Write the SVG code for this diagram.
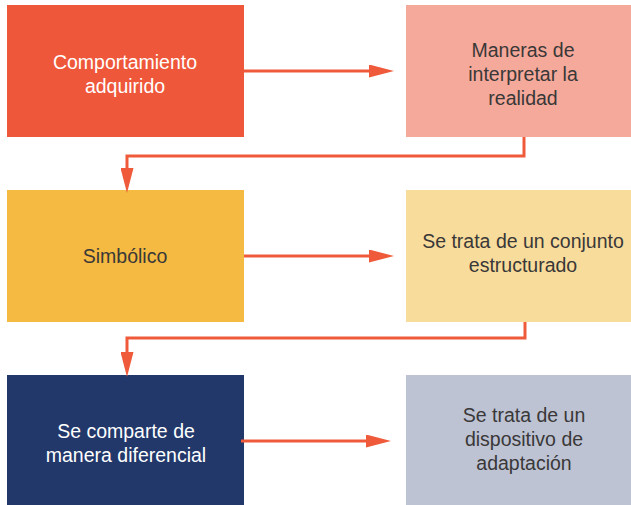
<svg xmlns="http://www.w3.org/2000/svg" width="631" height="505" viewBox="0 0 631 505">
<style>
text{font-family:"Liberation Sans",Arial,sans-serif;font-size:19.5px;text-anchor:middle}
.lt{fill:#ffffff}
.dk{fill:#3a3838}
.conn{fill:none;stroke:#EF5A3A;stroke-width:3;marker-end:url(#ah)}
</style>
<defs>
<marker id="ah" markerUnits="userSpaceOnUse" viewBox="0 0 25 13" refX="0" refY="6.5" markerWidth="25" markerHeight="13" orient="auto">
<path d="M0,0 L25,6.5 L0,13 Z" fill="#EF5A3A"/>
</marker>
</defs>
<g id="n1"><rect x="7" y="5" width="237" height="132" fill="#EF573A"/>
<text class="lt" x="125" y="69">Comportamiento</text><text class="lt" x="125" y="93">adquirido</text></g>
<g id="n2"><rect x="406" y="5" width="225" height="132" fill="#F5A99A"/>
<text class="dk" x="523" y="57">Maneras de</text><text class="dk" x="523" y="81">interpretar la</text><text class="dk" x="523" y="105">realidad</text></g>
<g id="n3"><rect x="7" y="190" width="237" height="132" fill="#F4BA41"/>
<text class="dk" x="125" y="263">Simbólico</text></g>
<g id="n4"><rect x="406" y="190" width="225" height="132" fill="#F8DC9C"/>
<text class="dk" x="523" y="248">Se trata de un conjunto</text><text class="dk" x="523" y="272">estructurado</text></g>
<g id="n5"><rect x="7" y="375" width="237" height="130" fill="#22386A"/>
<text class="lt" x="126" y="438">Se comparte de</text><text class="lt" x="126" y="462">manera diferencial</text></g>
<g id="n6"><rect x="406" y="375" width="225" height="130" fill="#BDC3D3"/>
<text class="dk" x="524" y="422">Se trata de un</text><text class="dk" x="524" y="446">dispositivo de</text><text class="dk" x="524" y="470">adaptación</text></g>
<g id="connectors">
<path class="conn" d="M244,71 H369"/>
<path class="conn" d="M524,137 V156 H127 V168"/>
<path class="conn" d="M244,256 H369"/>
<path class="conn" d="M525,322 V338 H127 V352"/>
<path class="conn" d="M241,441 H366"/>
</g>
</svg>
